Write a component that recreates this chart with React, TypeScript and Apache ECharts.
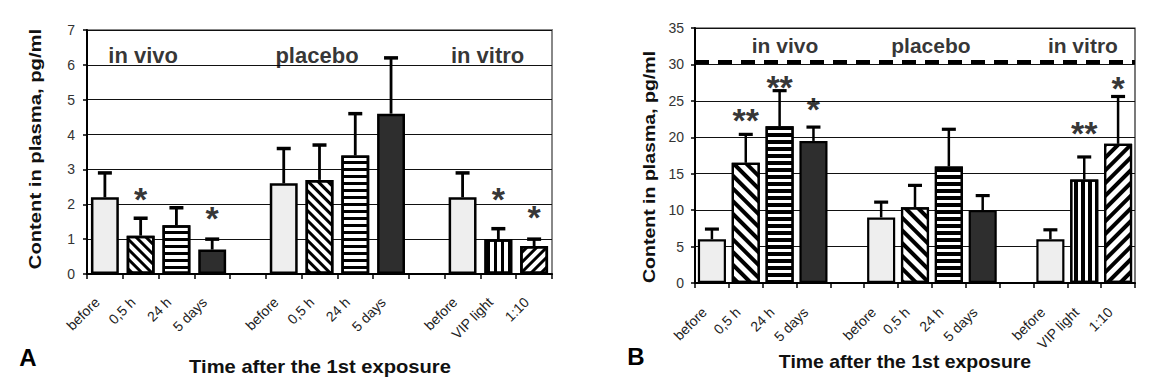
import React, { useEffect, useRef } from 'react';
import * as echarts from 'echarts';

// ---------- data ----------
const categories = ['before', '0,5 h', '24 h', '5 days', '', 'before', '0,5 h', '24 h', '5 days', '', 'before', 'VIP light', '1:10'];
const patternKeys = ['light', 'back', 'horiz', 'dark', null, 'light', 'back', 'horiz', 'dark', null, 'light', 'vert', 'fwd'];

const valuesA = [2.2, 1.1, 1.4, 0.7, null, 2.6, 2.7, 3.4, 4.6, null, 2.2, 1.0, 0.8];
const errTopA = [2.9, 1.6, 1.9, 1.0, null, 3.6, 3.7, 4.6, 6.2, null, 2.9, 1.3, 1.0];
const starsA = [null, '*', null, '*', null, null, null, null, null, null, null, '*', '*'];
const starYA = [null, 2.35, null, 1.8, null, null, null, null, null, null, null, 2.35, 1.83];

const valuesB = [6.0, 16.5, 21.5, 19.5, null, 9.0, 10.4, 16.0, 10.0, null, 6.0, 14.2, 19.1];
const errTopB = [7.4, 20.4, 26.4, 21.4, null, 11.1, 13.4, 21.1, 12.0, null, 7.3, 17.3, 25.6];
const starsB = [null, '**', '**', '*', null, null, null, null, null, null, null, '**', '*'];
const starYB = [null, 23.3, 27.8, 24.8, null, null, null, null, null, null, null, 21.5, 27.7];

const groupNames = ['in vivo', 'placebo', 'in vitro'];
const groupPosA = [1.57, 6.43, 11.2];
const groupYA = [6.28, 6.28, 6.28];
const groupPosB = [2.66, 6.97, 11.46];
const groupYB = [32.6, 32.6, 32.6];

const yMaxA = 7;
const yStepA = 1;
const yMaxB = 35;
const yStepB = 5;
const thresholdB = 30.3;

const yTitle = 'Content in plasma, pg/ml';
const xTitle = 'Time after the 1st exposure';

// ---------- styles ----------
const FONT = '"Liberation Sans", Arial, sans-serif';

function fillStyle(key: string | null, stripe: number, gap: number, dstripe: number, dgap: number) {
  const base = { borderColor: '#000' };
  const decal = (rotation: number, s: number, g: number) => ({
    symbol: 'rect', symbolSize: 1, dashArrayX: [1, 0], dashArrayY: [s, g], rotation, color: '#000', backgroundColor: '#fff',
  });
  switch (key) {
    case 'light':
      return { ...base, color: '#eeeeee' };
    case 'dark':
      return { ...base, color: '#2e2e2e' };
    case 'horiz':
      return { ...base, color: '#fff', decal: decal(0, stripe, gap) };
    case 'vert':
      return { ...base, color: '#fff', decal: decal(Math.PI / 2, stripe, gap) };
    case 'back':
      return { ...base, color: '#fff', decal: decal(Math.PI / 4, dstripe, dgap) };
    case 'fwd':
      return { ...base, color: '#fff', decal: decal(-Math.PI / 4, dstripe, dgap) };
    default:
      return base;
  }
}

function buildPanel(idx: number, values: (number | null)[], errTop: (number | null)[], stars: (string | null)[], starY: (number | null)[], groupPos: number[], groupY: number[], opts: any) {
  const barData = values.map((v, i) => (v == null ? '-' : { value: v, itemStyle: { ...fillStyle(patternKeys[i], opts.stripe, opts.gap, opts.dstripe, opts.dgap), borderWidth: opts.border } }));
  const errData = values.map((v, i) => (v == null ? null : [i, v, errTop[i]])).filter(Boolean);
  const starData = stars.map((s, i) => (s == null ? null : [i, starY[i], s])).filter(Boolean);
  const groupData = groupNames.map((g, i) => [groupPos[i], groupY[i], g]);
  const series: any[] = [
    {
      type: 'bar',
      xAxisIndex: idx * 2,
      yAxisIndex: idx,
      data: barData,
      barCategoryGap: opts.gapPct,
      silent: true,
      z: 2,
      markLine: opts.threshold != null ? {
        silent: true,
        symbol: 'none',
        label: { show: false },
        lineStyle: { color: '#000', width: 4, type: [14, 9] },
        data: [{ yAxis: opts.threshold }],
      } : undefined,
    },
    {
      type: 'custom',
      xAxisIndex: idx * 2,
      yAxisIndex: idx,
      silent: true,
      z: 1,
      encode: { x: 0, y: [1, 2] },
      data: errData,
      renderItem: (params: any, api: any) => {
        const x = api.value(0);
        const p0 = api.coord([x, api.value(1)]);
        const p1 = api.coord([x, api.value(2)]);
        const cap = opts.cap;
        return {
          type: 'group',
          children: [
            { type: 'line', shape: { x1: p0[0], y1: p0[1], x2: p1[0], y2: p1[1] }, style: { stroke: '#000', lineWidth: opts.errW } },
            { type: 'line', shape: { x1: p1[0] - cap, y1: p1[1], x2: p1[0] + cap, y2: p1[1] }, style: { stroke: '#000', lineWidth: opts.capW } },
          ],
        };
      },
    },
    {
      type: 'scatter',
      xAxisIndex: idx * 2,
      yAxisIndex: idx,
      silent: true,
      symbolSize: 1,
      itemStyle: { color: 'rgba(0,0,0,0)' },
      data: starData,
      label: {
        show: true,
        position: 'inside',
        offset: [0, opts.starOffset],
        formatter: (p: any) => p.data[2],
        color: '#000',
        fontFamily: FONT,
        fontWeight: 'bold',
        fontSize: opts.starSize,
      },
      z: 5,
    },
    {
      type: 'scatter',
      xAxisIndex: idx * 2 + 1,
      yAxisIndex: idx,
      silent: true,
      symbolSize: 1,
      itemStyle: { color: 'rgba(0,0,0,0)' },
      data: groupData,
      label: {
        show: true,
        position: 'inside',
        formatter: (p: any) => p.data[2],
        color: '#000',
        fontFamily: FONT,
        fontWeight: 'bold',
        fontSize: opts.groupSize,
      },
      z: 5,
    },
  ];
  return series;
}

function xAxes(gridIndex: number, opts: any) {
  return [
    {
      type: 'category',
      gridIndex,
      data: categories,
      axisLine: { show: true, lineStyle: { color: '#000', width: 2 } },
      axisTick: { show: true, interval: 0, length: 5, lineStyle: { color: '#000', width: 1.5 } },
      axisLabel: {
        interval: 0,
        rotate: 45,
        margin: opts.labelMargin,
        padding: [0, opts.labelShift, 0, 0],
        color: '#222',
        fontFamily: FONT,
        fontSize: 14,
      },
      splitLine: { show: false },
    },
    { type: 'value', gridIndex, min: 0, max: 13, show: false },
  ];
}

function yAxis(gridIndex: number, max: number, step: number, opts: any) {
  return {
    type: 'value',
    gridIndex,
    min: 0,
    max,
    interval: step,
    axisLine: { show: true, lineStyle: { color: '#000', width: 2 } },
    axisTick: { show: true, length: 4, lineStyle: { color: '#000', width: 1.5 } },
    axisLabel: { margin: opts.yMargin, color: '#333', fontFamily: FONT, fontSize: 14 },
    splitLine: { show: true, lineStyle: { color: '#111', width: 1.2 } },
  };
}

export default function App() {
  const ref = useRef<HTMLDivElement>(null);
  useEffect(() => {
    if (!ref.current) return;
    const chart = echarts.init(ref.current, undefined, { renderer: 'svg' });
    const optsA = { stripe: 3, gap: 4, dstripe: 3, dgap: 4, border: 2.5, gapPct: '22%', cap: 7, errW: 2.8, capW: 3.5, starSize: 34, starOffset: 7, groupSize: 22, labelMargin: 18, labelShift: 11, yMargin: 12, threshold: null };
    const optsB = { stripe: 3.5, gap: 3, dstripe: 3.5, dgap: 4.5, border: 2.2, gapPct: '17%', cap: 7, errW: 2.5, capW: 3.2, starSize: 34, starOffset: 7, groupSize: 21, labelMargin: 19, labelShift: 11, yMargin: 11, threshold: thresholdB };
    const titleStyle = { fontFamily: FONT, fontWeight: 'bold', fontSize: 18, fill: '#111', align: 'center', verticalAlign: 'middle' };
    const letterStyle = { fontFamily: FONT, fontWeight: 'bold', fontSize: 24, fill: '#000', align: 'center', verticalAlign: 'middle' };
    chart.setOption({
      animation: false,
      grid: [
        { left: 87, top: 30, width: 465, height: 244, show: true, borderColor: '#888', borderWidth: 2, backgroundColor: 'transparent' },
        { left: 695, top: 28, width: 440, height: 255, show: true, borderColor: '#222', borderWidth: 1.2, backgroundColor: 'transparent' },
      ],
      xAxis: [...xAxes(0, optsA), ...xAxes(1, optsB)],
      yAxis: [yAxis(0, yMaxA, yStepA, optsA), yAxis(1, yMaxB, yStepB, optsB)],
      series: [
        ...buildPanel(0, valuesA, errTopA, starsA, starYA, groupPosA, groupYA, optsA),
        ...buildPanel(1, valuesB, errTopB, starsB, starYB, groupPosB, groupYB, optsB),
      ],
      graphic: [
        { type: 'text', x: 35, y: 149, rotation: Math.PI / 2, scaleX: 1.19, style: { ...titleStyle, fontSize: 17, text: yTitle } },
        { type: 'text', x: 649, y: 167, rotation: Math.PI / 2, scaleX: 1.15, style: { ...titleStyle, fontSize: 17, text: yTitle } },
        { type: 'text', x: 320, y: 367, scaleX: 1.12, style: { ...titleStyle, text: xTitle } },
        { type: 'text', x: 905, y: 362, scaleX: 1.08, style: { ...titleStyle, text: xTitle } },
        { type: 'text', x: 28, y: 357, style: { ...letterStyle, text: 'A' } },
        { type: 'text', x: 636, y: 356, style: { ...letterStyle, text: 'B' } },
      ],
    });
    return () => chart.dispose();
  }, []);
  return <div ref={ref} style={{ position: 'absolute', left: 0, top: 0, width: 1156, height: 392 }} />;
}
